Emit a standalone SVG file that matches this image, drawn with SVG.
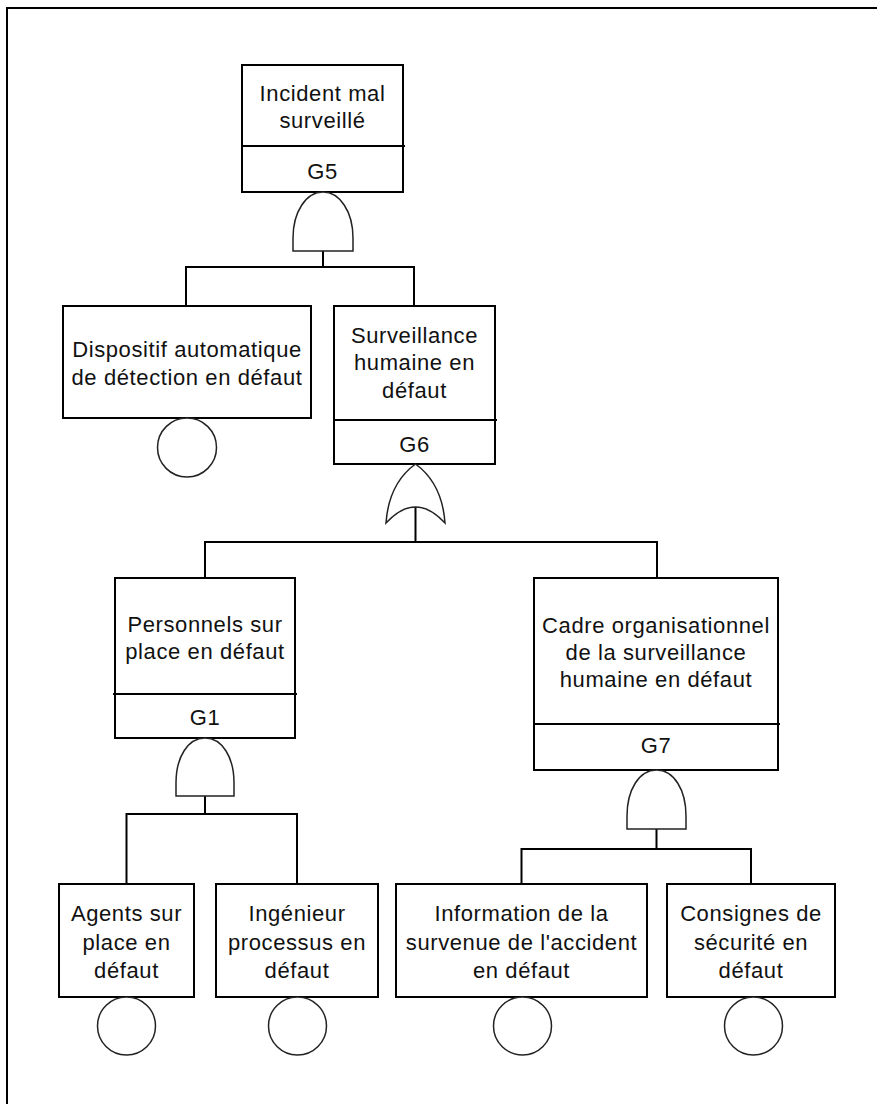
<svg xmlns="http://www.w3.org/2000/svg" width="877" height="1104" viewBox="0 0 877 1104">
  <style>
    .box { fill: #fff; stroke: #000; stroke-width: 2; }
    .div { stroke: #000; stroke-width: 2; fill: none; }
    .gate { fill: #fff; stroke: #222; stroke-width: 1.5; }
    .basic { fill: #fff; stroke: #222; stroke-width: 1.5; }
    .wire { stroke: #000; stroke-width: 2; fill: none; }
    .frame { stroke: #000; stroke-width: 2; fill: none; }
    text { font-family: "Liberation Sans", Arial, sans-serif; font-size: 22px; letter-spacing: 0.6px; fill: #111; text-anchor: middle; }
  </style>

  <!-- page frame (top and left edges) -->
  <path class="frame" d="M7,1104 V8 H877"/>

  <!-- connectors -->
  <g id="connectors">
    <path class="wire" d="M323,251 V267 M186,306 V267 H414 V306"/>
    <path class="wire" d="M415.5,507 V542 M205,578 V542 H657 V578"/>
    <path class="wire" d="M205,796 V814 M126.5,884 V814 H297 V884"/>
    <path class="wire" d="M656.5,829 V849 M521.5,884 V849 H751 V884"/>
  </g>

  <!-- G5: top event with AND gate -->
  <g id="node-g5">
    <rect class="box" x="242" y="65" width="161" height="127"/>
    <line class="div" x1="242" y1="146" x2="405" y2="146"/>
    <text x="322.5" y="100.5">Incident mal</text>
    <text x="322.5" y="128">surveillé</text>
    <text x="322.5" y="179">G5</text>
    <path class="gate" d="M293,251 V238 C293,212 306,192 323,192 C340,192 353,212 353,238 V251 Z"/>
  </g>

  <!-- basic event: automatic detection -->
  <g id="node-dispositif">
    <rect class="box" x="63" y="306" width="248" height="112"/>
    <text x="187" y="357">Dispositif automatique</text>
    <text x="187" y="385">de détection en défaut</text>
    <circle class="basic" cx="187" cy="447.5" r="29.5"/>
  </g>

  <!-- G6: human surveillance with OR gate -->
  <g id="node-g6">
    <rect class="box" x="334" y="306" width="161" height="158"/>
    <line class="div" x1="334" y1="420" x2="497" y2="420"/>
    <text x="414.5" y="342.5">Surveillance</text>
    <text x="414.5" y="370">humaine en</text>
    <text x="414.5" y="398">défaut</text>
    <text x="414.5" y="451.5">G6</text>
    <path class="gate" d="M415.5,464 C432,476 443,495 445,523 Q415.5,491 386,523 C388,495 399,476 415.5,464 Z"/>
  </g>

  <!-- G1: on-site staff with AND gate -->
  <g id="node-g1">
    <rect class="box" x="115" y="578" width="180" height="160"/>
    <line class="div" x1="113" y1="694" x2="297" y2="694"/>
    <text x="205" y="631.5">Personnels sur</text>
    <text x="205" y="658.5">place en défaut</text>
    <text x="205" y="725">G1</text>
    <path class="gate" d="M176,796 V783 C176,757 188,738 205,738 C222,738 234,757 234,783 V796 Z"/>
  </g>

  <!-- G7: organisational frame with AND gate -->
  <g id="node-g7">
    <rect class="box" x="534" y="578" width="244" height="192"/>
    <line class="div" x1="534" y1="724" x2="780" y2="724"/>
    <text x="656" y="633">Cadre organisationnel</text>
    <text x="656" y="660">de la surveillance</text>
    <text x="656" y="687">humaine en défaut</text>
    <text x="656" y="753">G7</text>
    <path class="gate" d="M627,829 V816 C627,790 639,770 656.5,770 C674,770 686,790 686,816 V829 Z"/>
  </g>

  <!-- basic events, bottom row -->
  <g id="node-agents">
    <rect class="box" x="59" y="884" width="135" height="113"/>
    <text x="126.5" y="921">Agents sur</text>
    <text x="126.5" y="949.5">place en</text>
    <text x="126.5" y="978">défaut</text>
    <circle class="basic" cx="126.5" cy="1026" r="29"/>
  </g>

  <g id="node-ingenieur">
    <rect class="box" x="216" y="884" width="162" height="113"/>
    <text x="297" y="921">Ingénieur</text>
    <text x="297" y="949.5">processus en</text>
    <text x="297" y="978">défaut</text>
    <circle class="basic" cx="297.5" cy="1026" r="29"/>
  </g>

  <g id="node-information">
    <rect class="box" x="396" y="884" width="251" height="113"/>
    <text x="521.5" y="921">Information de la</text>
    <text x="521.5" y="949.5">survenue de l'accident</text>
    <text x="521.5" y="978">en défaut</text>
    <circle class="basic" cx="522.5" cy="1026" r="29"/>
  </g>

  <g id="node-consignes">
    <rect class="box" x="667" y="884" width="168" height="113"/>
    <text x="751" y="921">Consignes de</text>
    <text x="751" y="949.5">sécurité en</text>
    <text x="751" y="978">défaut</text>
    <circle class="basic" cx="753.5" cy="1026" r="29"/>
  </g>
</svg>
